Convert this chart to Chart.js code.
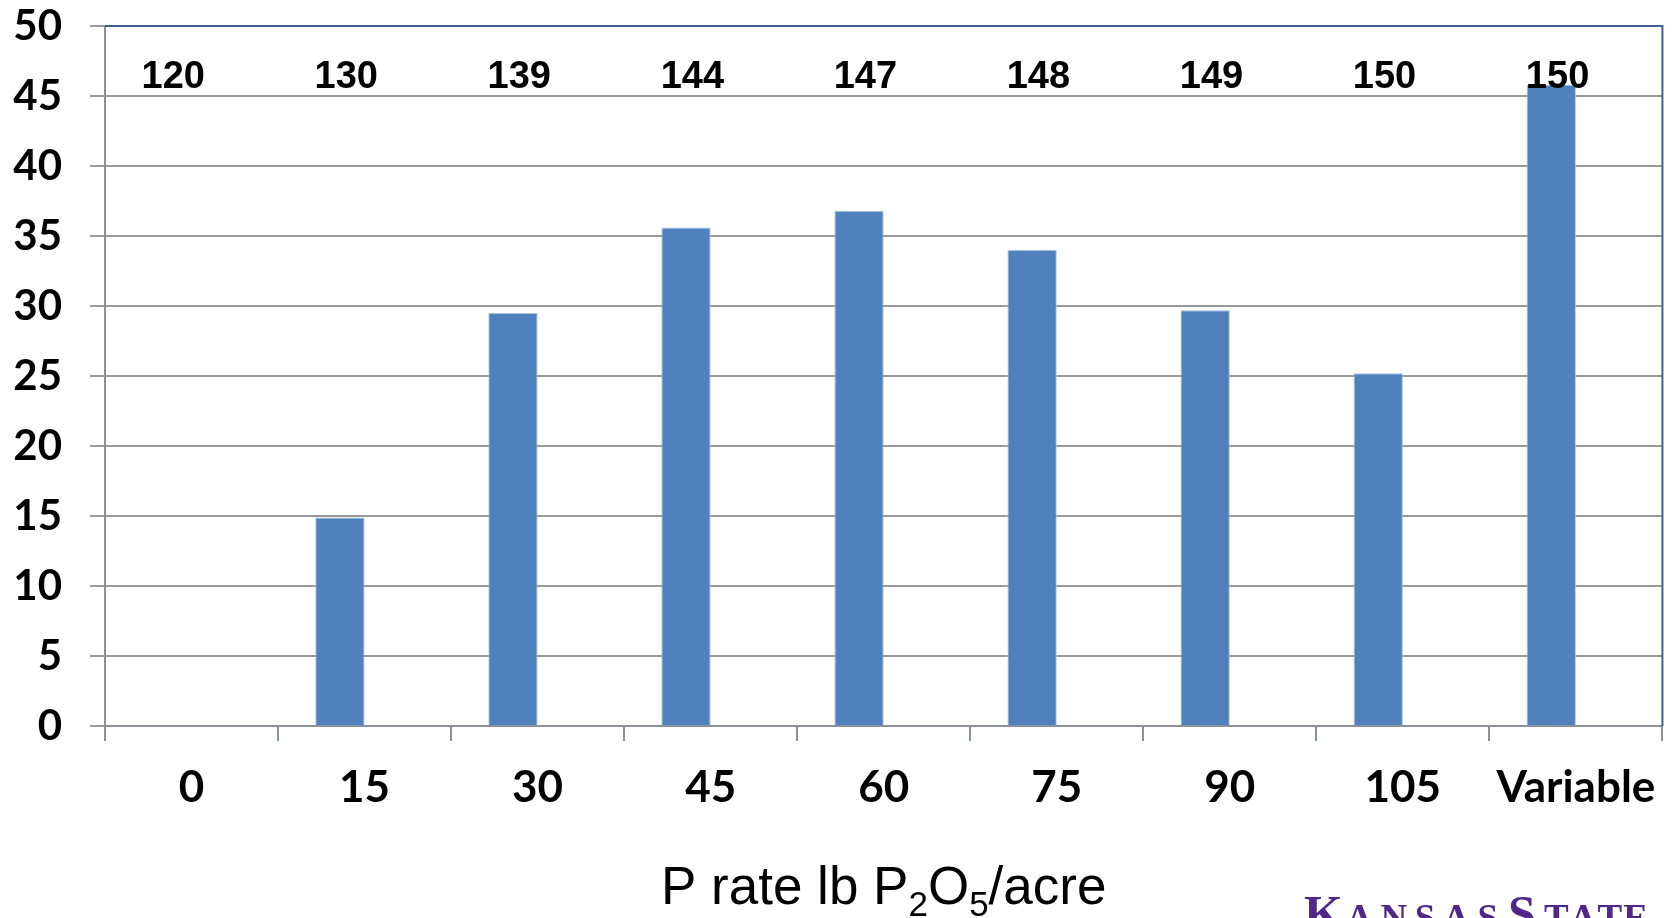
<!DOCTYPE html>
<html>
<head>
<meta charset="utf-8">
<script src="https://cdn.jsdelivr.net/npm/chart.js@4/dist/chart.umd.min.js"></script>
<style>
  html, body { margin: 0; padding: 0; background: #ffffff; }
  #wrap { width: 1676px; height: 918px; position: relative; }
</style>
</head>
<body>
<div id="wrap"><canvas id="chart"></canvas></div>
<script>
// P rate categories (lb P2O5/acre)
const rates = ['0', '15', '30', '45', '60', '75', '90', '105', 'Variable'];
// Bar heights
const barValues = [0, 14.9, 29.5, 35.6, 36.8, 34.0, 29.7, 25.2, 45.8];
// Yield figures printed across the top of each category
const yieldLabels = ['120', '130', '139', '144', '147', '148', '149', '150', '150'];
// Empty companion series (keeps each bar in the left half of its slot)
const companion = [null, null, null, null, null, null, null, null, null];
// Value axis
const yMin = 0, yMax = 50, yStep = 5;
const yieldLevel = 46.3;

const GRID = '#9a9a9a';
const AXIS = '#8b9199';
const FRAME = '#3f5f8f';
const BAR = '#4f81bd';

const decorations = {
  id: 'decorations',
  afterDraw(chart) {
    const { ctx, chartArea: a, scales: { x, y } } = chart;
    const bars = chart.getDatasetMeta(0).data;
    ctx.save();

    // top and right frame
    ctx.strokeStyle = FRAME;
    ctx.lineWidth = 2;
    ctx.beginPath();
    ctx.moveTo(a.left, a.top);
    ctx.lineTo(a.right, a.top);
    ctx.lineTo(a.right, a.bottom);
    ctx.stroke();

    // yield figures, centred over each bar
    ctx.fillStyle = '#000';
    ctx.font = 'bold 38px "Liberation Sans", Arial, sans-serif';
    ctx.textAlign = 'center';
    ctx.textBaseline = 'middle';
    yieldLabels.forEach((t, i) => {
      const cx = (bars[i].x + x.getPixelForValue(i)) / 2 - 6;
      ctx.fillText(t, cx, y.getPixelForValue(yieldLevel));
    });

    // axis title with subscripts
    const parts = [
      ['P rate lb P', false], ['2', true], ['O', false], ['5', true], ['/acre', false]
    ];
    const big = '53px "Liberation Sans", Arial, sans-serif';
    const small = '35px "Liberation Sans", Arial, sans-serif';
    let total = 0;
    parts.forEach(([t, sub]) => { ctx.font = sub ? small : big; total += ctx.measureText(t).width; });
    let tx = (a.left + a.right) / 2 - total / 2;
    const base = 904;
    ctx.textAlign = 'left';
    ctx.textBaseline = 'alphabetic';
    parts.forEach(([t, sub]) => {
      ctx.font = sub ? small : big;
      ctx.fillText(t, tx, sub ? base + 12 : base);
      tx += ctx.measureText(t).width;
    });

    // university wordmark (small caps)
    ctx.fillStyle = '#512888';
    const capFont = 'bold 50px "Liberation Serif", "Times New Roman", serif';
    const scFont = 'bold 37px "Liberation Serif", "Times New Roman", serif';
    const spaced = (text, x0, x1, yb) => {
      ctx.font = scFont;
      const widths = [...text].map(c => ctx.measureText(c).width);
      const sum = widths.reduce((p, c) => p + c, 0);
      const gap = (x1 - x0 - sum) / (text.length - 1);
      let cx = x0;
      [...text].forEach((c, i) => { ctx.fillText(c, cx, yb); cx += widths[i] + gap; });
    };
    const wb = 930;
    ctx.font = capFont;
    ctx.fillText('K', 1304, wb);
    spaced('ANSAS', 1346, 1498, wb);
    ctx.font = capFont;
    ctx.fillText('S', 1508, wb);
    spaced('TATE', 1544, 1648, wb);

    ctx.restore();
  }
};

new Chart(document.getElementById('chart'), {
  type: 'bar',
  data: {
    labels: rates,
    datasets: [
      {
        label: 'P rate',
        data: barValues,
        backgroundColor: BAR,
        borderColor: '#a9c0de',
        borderWidth: 1,
        categoryPercentage: 0.57,
        barPercentage: 1.0
      },
      {
        label: '',
        data: companion,
        backgroundColor: 'rgba(0,0,0,0)',
        categoryPercentage: 0.57,
        barPercentage: 1.0
      }
    ]
  },
  options: {
    responsive: true,
    maintainAspectRatio: false,
    animation: false,
    devicePixelRatio: 1,
    layout: { padding: { left: 0, right: 12, top: 26, bottom: 0 } },
    plugins: {
      legend: { display: false },
      tooltip: { enabled: false },
      title: { display: false }
    },
    scales: {
      x: {
        grid: {
          display: true,
          offset: true,
          drawOnChartArea: false,
          drawTicks: true,
          tickLength: 15,
          color: AXIS,
          lineWidth: 2
        },
        border: { display: true, color: AXIS, width: 2 },
        ticks: {
          color: '#000',
          font: { family: 'Lato, "Open Sans", sans-serif', size: 44, weight: 'bold' },
          padding: 20,
          maxRotation: 0,
          autoSkip: false
        },
        afterFit(scale) { scale.height = 192; }
      },
      y: {
        min: yMin,
        max: yMax,
        grid: {
          color: GRID,
          lineWidth: 2,
          drawTicks: true,
          tickLength: 15
        },
        border: { display: true, color: AXIS, width: 2 },
        ticks: {
          stepSize: yStep,
          color: '#000',
          font: { family: 'Lato, "Open Sans", sans-serif', size: 42, weight: 'bold' },
          padding: 28
        },
        afterFit(scale) {
          scale.width = 105;
          scale.paddingTop = 0;
          scale.paddingBottom = 0;
        }
      }
    }
  },
  plugins: [decorations]
});
</script>
</body>
</html>
